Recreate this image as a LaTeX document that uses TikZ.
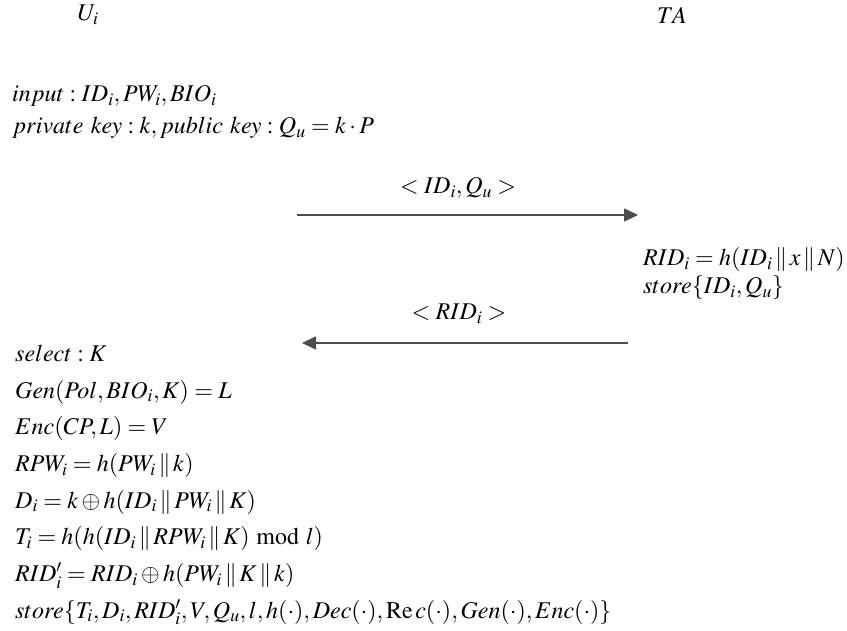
\documentclass[tikz,border=0pt]{standalone}
\usepackage{mathptmx}
\usepackage{tikz}
\usetikzlibrary{arrows.meta}
\newcommand{\cc}{\,\|\,}
\tikzset{
  msg/.style={draw=black!70, line width=1.5pt, -{Triangle[length=14pt,width=13pt]}},
  txt/.style={font=\fontsize{24}{#1}\selectfont, inner sep=0pt},
  txt/.default=30
}

\begin{document}
\begin{tikzpicture}[x=1pt,y=-1pt]
\useasboundingbox (0,0) rectangle (847,631);
% parties
\node[txt] (Ui) at (88,15) {$U_i$};
\node[txt] (TA) at (672,15) {$TA$};
% user side, registration input
\node[txt=32, anchor=west, align=left] (uinput) at (12,112) {%
$input: ID_i, PW_i, BIO_i$\\
$private\ key: k, public\ key: Q_u = k\cdot P$};
% first message
\coordinate (m1a) at (297,215);
\coordinate (m1b) at (638,215);
\draw[msg] (m1a) -- (m1b);
\node[txt] (m1) at (458,188) {$< ID_i, Q_u >$};
% TA side
\node[txt=28, anchor=west, align=left] (tacalc) at (643,274) {%
$RID_i = h(ID_i \cc x \cc N)$\\
$store\{ID_i, Q_u\}$};
% second message
\coordinate (m2a) at (628,343);
\coordinate (m2b) at (302,343);
\draw[msg] (m2a) -- (m2b);
\node[txt] (m2) at (459,314) {$< RID_i >$};
% user side, stored values
\node[txt=36.7, anchor=west, align=left] (ucalc) at (15,485) {%
$select: K$\\
$Gen(Pol, BIO_i, K) = L$\\
$Enc(CP, L) = V$\\
$RPW_i = h(PW_i \cc k)$\\
$D_i = k \oplus h(ID_i \cc PW_i \cc K)$\\
$T_i = h(h(ID_i \cc RPW_i \cc K) \bmod l)$\\
$RID'_i = RID_i \oplus h(PW_i \cc K \cc k)$\\
$store\{T_i, D_i, RID'_i, V, Q_u, l, h(\cdot), Dec(\cdot), \mathrm{Re}\,c(\cdot), Gen(\cdot), Enc(\cdot)\}$};
\end{tikzpicture}
\end{document}
